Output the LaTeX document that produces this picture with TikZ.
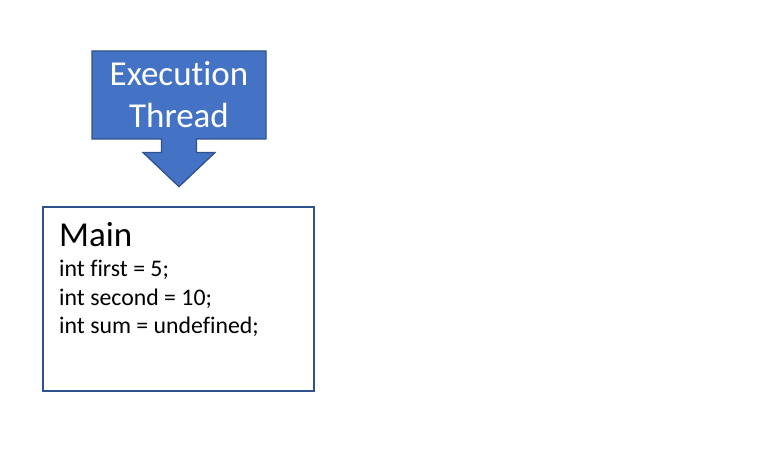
\documentclass[tikz,border=0pt]{standalone}
\usepackage{fontspec}
\setmainfont{Carlito}[Ligatures=NoCommon]
\usetikzlibrary{shapes.arrows}
\definecolor{threadblue}{HTML}{4472C4}
\definecolor{threadedge}{HTML}{2F528F}

\begin{document}
\begin{tikzpicture}[x=1pt,y=1pt,
        thread/.style={arrow box,draw=threadedge,fill=threadblue,line width=1.3pt,text=white,
            arrow box arrows={south:47pt from border},arrow box shaft width=35pt,
            arrow box head extend=18.5pt,arrow box tip angle=93,
            minimum width=174pt,minimum height=88pt,inner sep=0pt,align=center,
            font=\fontsize{35}{42}\selectfont},
        frame/.style={draw=threadedge,line width=1.3pt,minimum width=271pt,minimum height=184pt,inner sep=0pt},
        code/.style={anchor=base west,inner sep=0pt,font=\fontsize{23.8}{28}\selectfont}]

    \useasboundingbox (0,0) rectangle (776,471);

    \node[thread] (thread) at (179,376) {Execution\\Thread};

    \node[frame] (main) at (178.5,172) {};
    \node[code,font=\fontsize{35}{42}\selectfont] (title) at (59,224) {Main};
    \node[code] (first) at (59,194) {int first = 5;};
    \node[code] (second) at (59,165) {int second = 10;};
    \node[code] (sum) at (59,137) {int sum = undefined;};
\end{tikzpicture}
\end{document}
